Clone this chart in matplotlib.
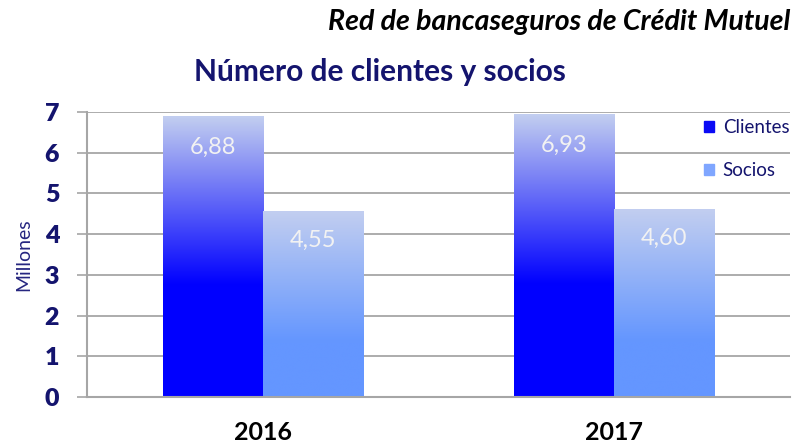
import matplotlib.pyplot as plt
import matplotlib.patches as mpatches
import numpy as np

# ----- Data ------------------------------------------------------------------------------------------------------- #

YEARS = ['2016', '2017']
SERIES = ['Clientes', 'Socios']
CLIENTES = [6.88, 6.93]
SOCIOS = [4.55, 4.60]

# ----- Style ------------------------------------------------------------------------------------------------------ #

NAVY = '#14146e'
GRID = '#a6a6a6'
TOP_COLOR = np.array([194, 206, 240]) / 255
BOTTOM_COLORS = {'Clientes': np.array([0, 0, 255]) / 255,
                 'Socios': np.array([100, 150, 255]) / 255}
HANDLE_COLORS = {'Clientes': '#0a0af5', 'Socios': '#7fa6ff'}
BAR_WIDTH = 0.285

plt.rcParams['font.family'] = ['Lato', 'DejaVu Sans']


def gradient_bar(ax, x0, height, bottom_color, solid_frac):
    """Draw a bar with a vertical gradient from light at the top to a saturated colour lower down."""
    n = 200
    t = np.linspace(0, 1, n)  # 0 = bottom, 1 = top
    s = np.clip((t - solid_frac) / (1 - solid_frac), 0, 1)
    rgb = bottom_color[None, :] * (1 - s[:, None]) + TOP_COLOR[None, :] * s[:, None]
    img = rgb[:, None, :]
    ax.imshow(img, extent=(x0, x0 + BAR_WIDTH, 0, height), origin='lower',
              aspect='auto', interpolation='bicubic', zorder=2)


fig = plt.figure(figsize=(7.94, 4.45), dpi=100)
ax = fig.add_axes([0.1096, 0.1079, 0.8850, 0.6404])

x = np.arange(len(YEARS))
for i in range(len(YEARS)):
    gradient_bar(ax, x[i] - BAR_WIDTH, CLIENTES[i], BOTTOM_COLORS['Clientes'], 0.40)
    gradient_bar(ax, x[i], SOCIOS[i], BOTTOM_COLORS['Socios'], 0.30)
    ax.text(x[i] - BAR_WIDTH / 2, CLIENTES[i] - 0.74, f'{CLIENTES[i]:.2f}'.replace('.', ','),
            ha='center', va='center', color='#f2f2f2', fontsize=17, zorder=3)
    ax.text(x[i] + BAR_WIDTH / 2, SOCIOS[i] - 0.70, f'{SOCIOS[i]:.2f}'.replace('.', ','),
            ha='center', va='center', color='#f2f2f2', fontsize=17, zorder=3)

ax.set_xlim(-0.5, 1.5)
ax.set_ylim(0, 7)
ax.set_yticks(range(0, 8))
ax.set_xticks(x)
ax.set_xticklabels(YEARS, fontsize=18, fontweight='bold', color='black')
ax.tick_params(axis='x', length=0, pad=17)
ax.tick_params(axis='y', length=7, width=1.2, color=GRID, labelsize=18, labelcolor=NAVY, pad=13)
for lbl in ax.get_yticklabels():
    lbl.set_fontweight('heavy')

ax.grid(axis='y', color=GRID, linewidth=1.3, zorder=0)
ax.set_axisbelow(True)
for side in ['top', 'right']:
    ax.spines[side].set_visible(False)
ax.spines['left'].set_color(GRID)
ax.spines['left'].set_linewidth(1.5)
ax.spines['bottom'].set_color(GRID)
ax.spines['bottom'].set_linewidth(1.5)

ax.set_ylabel('Millones', color='#262680', fontsize=14, labelpad=9)

handles = [mpatches.Patch(color=HANDLE_COLORS[s], label=s) for s in SERIES]
leg = ax.legend(handles=handles, loc='upper left', bbox_to_anchor=(704 / 794, 1 - 119 / 445),
                bbox_transform=fig.transFigure, frameon=False, fontsize=13.5,
                handlelength=0.55, handleheight=0.55, handletextpad=0.45,
                labelspacing=1.4, borderpad=0, borderaxespad=0)
for t in leg.get_texts():
    t.set_color(NAVY)

fig.text(0.478, 1 - 72 / 445, 'Número de clientes y socios', ha='center', va='center',
         fontsize=21.5, fontweight='bold', color=NAVY)
fig.text(0.995, 1 - 22 / 445, 'Red de bancaseguros de Crédit Mutuel', ha='right', va='center',
         fontsize=20.5, fontweight='bold', fontstyle='italic', color='black')

fig.savefig('out.png', dpi=100)
